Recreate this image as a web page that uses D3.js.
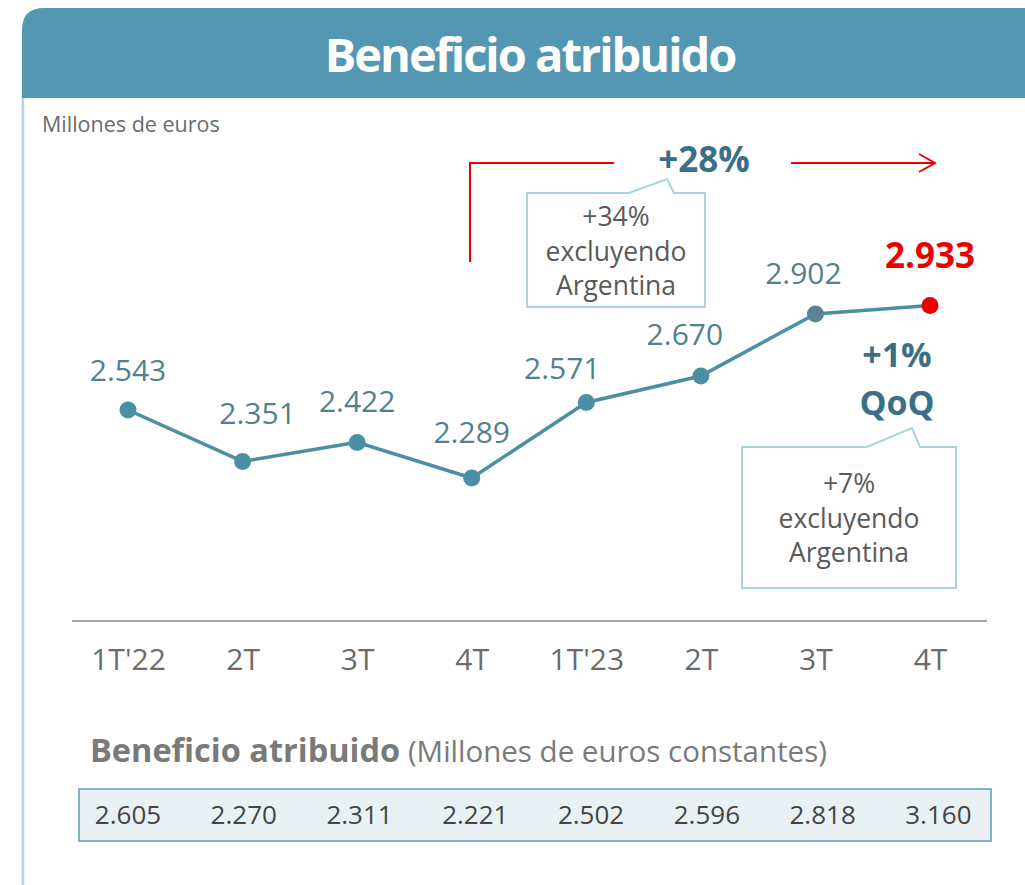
<!DOCTYPE html>
<html>
<head>
<meta charset="utf-8">
<script src="https://cdn.jsdelivr.net/npm/d3@7"></script>
<style>
  body { margin: 0; background: #fff; }
  svg { display: block; font-family: "Open Sans", "Noto Sans", sans-serif; }
</style>
</head>
<body>
<script>
// Dimensions
const width = 1025;
const height = 885;

// Données
const trimestres = ["1T'22", "2T", "3T", "4T", "1T'23", "2T", "3T", "4T"];
const beneficio = [2543, 2351, 2422, 2289, 2571, 2670, 2902, 2933];
const constantes = [2605, 2270, 2311, 2221, 2502, 2596, 2818, 3160];
const anual = ["+28%"];
const anualExcl = ["+34%", "excluyendo", "Argentina"];
const trimestral = ["+1%", "QoQ"];
const trimestralExcl = ["+7%", "excluyendo", "Argentina"];

// Décalage des étiquettes (mise en page)
const labelDx = [0, 15, 0, 0, -24, -16, -12, 0];
const labelDy = [-29, -37, -30, -35, -24, -31, -30, -38];

// Couleurs
const teal = '#4a8fa3';
const label = '#52808f';
const dark = '#3b6f85';
const red = '#ec0000';
const boxStroke = '#a9d3e3';

const es = d3.formatLocale({ decimal: ',', thousands: '.', grouping: [3], currency: ['', ' €'] });
const fmt = es.format(',d');

const svg = d3.select('body')
  .append('svg')
  .attr('width', width)
  .attr('height', height);

// Carte : bordure gauche et en-tête
svg.append('line')
  .attr('x1', 23).attr('x2', 23)
  .attr('y1', 30).attr('y2', height)
  .attr('stroke', '#b3d6e4')
  .attr('stroke-width', 2.5);

svg.append('path')
  .attr('d', `M22,98 V30 Q22,8 44,8 H${width} V98 Z`)
  .attr('fill', '#5497b3');

svg.append('text')
  .attr('x', 530).attr('y', 72)
  .attr('text-anchor', 'middle')
  .attr('fill', '#fff')
  .style('font-size', '47px')
  .style('font-weight', 700)
  .style('letter-spacing', '-2px')
  .text('Beneficio atribuido');

svg.append('text')
  .attr('x', 42).attr('y', 132)
  .attr('fill', '#6b6b6b')
  .style('font-size', '21.5px')
  .text('Millones de euros');

// Échelles
const x = d3.scalePoint()
  .domain(d3.range(trimestres.length))
  .range([128, 930]);

const y = d3.scaleLinear()
  .domain([d3.min(beneficio), d3.max(beneficio)])
  .range([478, 305.6]);

// Axe horizontal
svg.append('line')
  .attr('x1', 72).attr('x2', 987)
  .attr('y1', 621).attr('y2', 621)
  .attr('stroke', '#a6a6a6')
  .attr('stroke-width', 2);

svg.append('g')
  .attr('transform', 'translate(0, 670)')
  .call(d3.axisBottom(x).tickSize(0).tickPadding(0).tickFormat(i => trimestres[i]))
  .call(g => g.select('.domain').remove())
  .call(g => g.selectAll('text')
    .attr('fill', '#6b6b6b')
    .attr('dy', 0)
    .style('font-size', '30px')
    .style('font-family', '"Open Sans", sans-serif'));

// Ligne
const line = d3.line()
  .x((d, i) => x(i))
  .y(d => y(d));

svg.append('path')
  .datum(beneficio)
  .attr('d', line)
  .attr('fill', 'none')
  .attr('stroke', teal)
  .attr('stroke-width', 3.5);

const last = beneficio.length - 1;

svg.selectAll('circle')
  .data(beneficio)
  .join('circle')
  .attr('cx', (d, i) => x(i))
  .attr('cy', d => y(d))
  .attr('r', 8.5)
  .attr('fill', (d, i) => i === last ? red : i === last - 1 ? '#5a8397' : teal);

svg.append('g')
  .selectAll('text')
  .data(beneficio)
  .join('text')
  .attr('x', (d, i) => x(i) + labelDx[i])
  .attr('y', (d, i) => y(d) + labelDy[i])
  .attr('text-anchor', 'middle')
  .attr('fill', (d, i) => i === last ? red : label)
  .style('font-size', (d, i) => i === last ? '35px' : '30px')
  .style('font-weight', (d, i) => i === last ? 700 : 400)
  .text(d => fmt(d));

// Variation annuelle
svg.append('path')
  .attr('d', 'M470,262 V163 H614')
  .attr('fill', 'none')
  .attr('stroke', red)
  .attr('stroke-width', 2);

svg.append('path')
  .attr('d', 'M791,163 H935 M919,154 L935,163 L919,172')
  .attr('fill', 'none')
  .attr('stroke', red)
  .attr('stroke-width', 2);

svg.append('text')
  .attr('x', 704).attr('y', 172)
  .attr('text-anchor', 'middle')
  .attr('fill', dark)
  .style('font-size', '35px')
  .style('font-weight', 700)
  .text(anual[0]);

function callout(path, cx, y0, lines) {
  svg.append('path')
    .attr('d', path)
    .attr('fill', '#fff')
    .attr('stroke', boxStroke)
    .attr('stroke-width', 2);
  svg.append('g')
    .selectAll('text')
    .data(lines)
    .join('text')
    .attr('x', cx)
    .attr('y', (d, i) => y0 + i * 34.5)
    .attr('text-anchor', 'middle')
    .attr('fill', '#5a5a5a')
    .style('font-size', '26.5px')
    .text(d => d);
}

callout('M527,193 H629 L667,179 L674,193 H705 V307 H527 Z', 616, 226, anualExcl);

// Variation trimestrielle
svg.append('g')
  .selectAll('text')
  .data(trimestral)
  .join('text')
  .attr('x', 897)
  .attr('y', (d, i) => 367 + i * 48)
  .attr('text-anchor', 'middle')
  .attr('fill', dark)
  .style('font-size', '34px')
  .style('font-weight', 700)
  .text(d => d);

callout('M742,447 H867 L912,428 L920,447 H956 V588 H742 Z', 849, 493, trimestralExcl);

// Tableau euros constants
const titre = svg.append('text')
  .attr('x', 90).attr('y', 762)
  .attr('fill', '#7a7a7a');
titre.append('tspan')
  .style('font-size', '32.5px')
  .style('font-weight', 700)
  .style('letter-spacing', '0px')
  .text('Beneficio atribuido');
titre.append('tspan')
  .style('font-size', '29.5px')
  .text(' (Millones de euros constantes)');

svg.append('rect')
  .attr('x', 79).attr('y', 789)
  .attr('width', 912).attr('height', 52)
  .attr('fill', '#eaf1f5')
  .attr('stroke', '#5c9bb1')
  .attr('stroke-width', 1.5);

svg.append('g')
  .selectAll('text')
  .data(constantes)
  .join('text')
  .attr('x', (d, i) => x(i) + i * 1.2)
  .attr('y', 824)
  .attr('text-anchor', 'middle')
  .attr('fill', '#444')
  .style('font-size', '26px')
  .text(d => fmt(d));
</script>
</body>
</html>
